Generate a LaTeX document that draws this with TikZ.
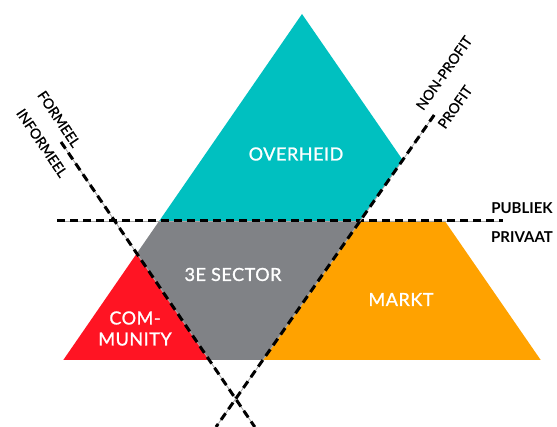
\documentclass[tikz,border=0pt]{standalone}
\usepackage{fontspec}
\setmainfont{Lato}
\newfontfamily\medfont[FakeBold=1.2,LetterSpace=3]{Lato}
\newfontfamily\medrot[FakeBold=0.8]{Lato}
\definecolor{teal1}{RGB}{0,192,192}
\definecolor{gray1}{RGB}{128,130,134}
\definecolor{red1}{RGB}{255,20,35}
\definecolor{orange1}{RGB}{255,162,0}
\tikzset{
  lbl/.style={text=white,font=\medfont\fontsize{18}{21}\selectfont,inner sep=0pt},
  side/.style={text=black,font=\bfseries\fontsize{15}{17}\selectfont,inner sep=0pt},
  rot/.style={text=black,font=\medrot\fontsize{14}{16}\selectfont,inner sep=0pt},
  guideline/.style={draw=gray!70,line width=0.8pt},
  dashline/.style={draw=black,line width=3pt,dash pattern=on 8pt off 5pt},
}
\begin{document}
\begin{tikzpicture}[x=1pt,y=-1pt]
\useasboundingbox (0,0) rectangle (557,427);
% key points
\coordinate (apex) at (302,14);
\coordinate (bl) at (63.3,360);
\coordinate (br) at (540.7,360);
\coordinate (lt) at (159.2,221);
\coordinate (rt) at (444.8,221);
\coordinate (pt) at (360,221);
\coordinate (pb) at (262.7,360);
\coordinate (pr) at (402.7,160);
\coordinate (fb) at (209.4,360);
\coordinate (fa) at (136.8,253.4);
% regions
\fill[teal1] (apex) -- (lt) -- (pt) -- (pr) -- cycle;
\fill[gray1] (lt) -- (pt) -- (pb) -- (fb) -- (fa) -- cycle;
\fill[red1] (fa) -- (bl) -- (fb) -- cycle;
\fill[orange1] (pt) -- (rt) -- (br) -- (pb) -- cycle;
% dashed lines
\coordinate (h1) at (57,221);
\coordinate (h2) at (503,221);
\coordinate (f1) at (61,142);
\coordinate (f2) at (254.8,427);
\coordinate (p1) at (434.2,115);
\coordinate (p2) at (216,427);
\foreach \a/\b in {h1/h2,f1/f2,p1/p2}{
  \draw[guideline] (\a) -- (\b);
  \draw[dashline] (\a) -- (\b);
}
% labels
\node[lbl] (overheid) at (296,154) {OVERHEID};
\node[lbl] (sector) at (233,274.5) {3E SECTOR};
\node[lbl] (markt) at (401,299.5) {MARKT};
\node[lbl,align=center] (community) at (135,328.5) {COM-\\MUNITY};
\node[side] (publiek) at (522,208.5) {PUBLIEK};
\node[side] (privaat) at (522,237) {PRIVAAT};
\node[rot,rotate=55] (nonprofit) at (444,73) {NON-PROFIT};
\node[rot,rotate=55] (profit) at (455,107) {PROFIT};
\node[rot,rotate=-56] (formeel) at (59,119) {FORMEEL};
\node[rot,rotate=-56] (informeel) at (42,143) {INFORMEEL};
\end{tikzpicture}
\end{document}
